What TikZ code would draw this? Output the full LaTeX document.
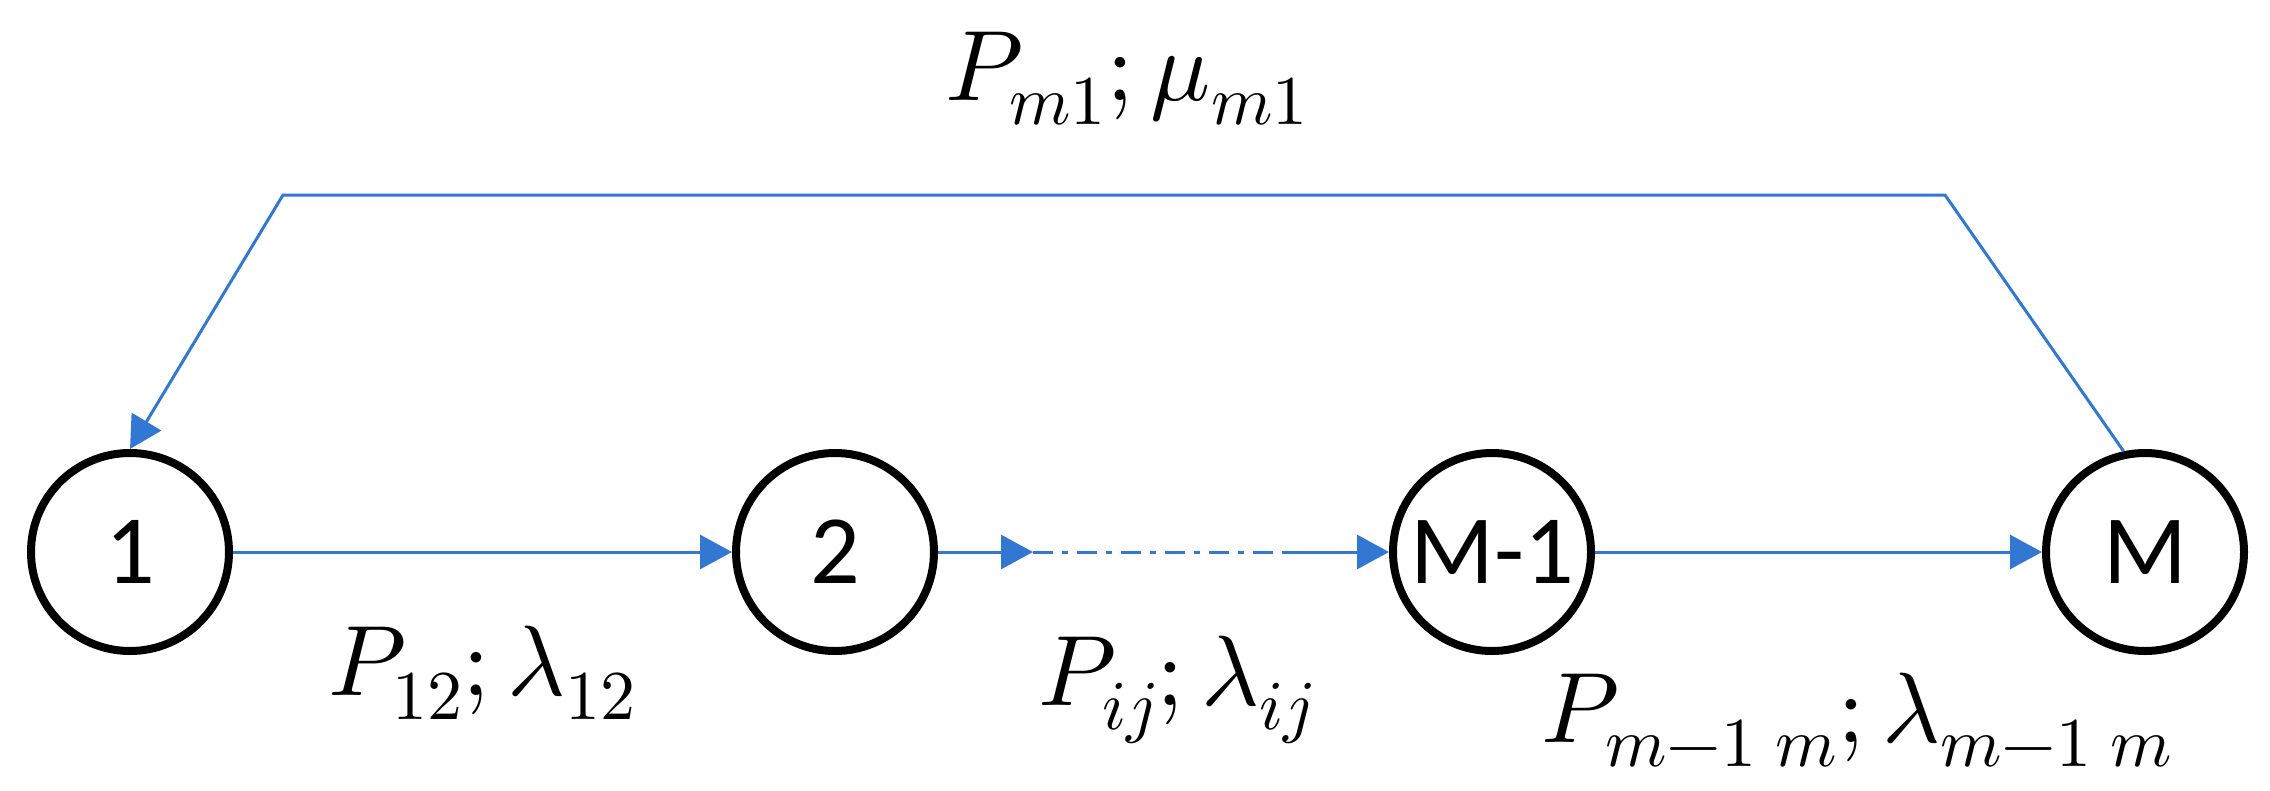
\documentclass[tikz,border=0pt]{standalone}
\usepackage{fontspec}
\usepackage{unicode-math}
\newfontfamily\nodefont{Carlito}
\usetikzlibrary{arrows.meta}
\definecolor{linkblue}{RGB}{50,120,210}
\begin{document}
\begin{tikzpicture}[x=1pt,y=-1pt,
  state/.style={circle, draw=black, line width=8pt, minimum size=198pt, inner sep=0pt,
    font=\nodefont\fontsize{98}{100}\selectfont},
  link/.style={draw=linkblue, line width=3pt},
  arr/.style={link, -{Triangle[length=32pt,width=34pt]}},
  dashdot/.style={link, dash pattern=on 20pt off 9pt on 6pt off 9pt},
  lbl/.style={anchor=base west, inner sep=0pt, font=\fontsize{100}{115}\selectfont}]
\useasboundingbox (0,0) rectangle (2270,790);

\node[state] (n1) at (130,552) {1};
\node[state] (n2) at (835,552) {2};
\node[state] (nm1) at (1492,552) {M-1};
\node[state] (nm) at (2145,552) {M};

\coordinate (d1) at (1033,552);
\coordinate (d2) at (1283,552);
\coordinate (cTL) at (283,195);
\coordinate (cTR) at (1945,195);

\draw[arr] (n1) -- (n2);
\draw[arr] (n2) -- (d1);
\draw[dashdot] (d1) -- (d2);
\draw[arr] (d2) -- (nm1);
\draw[arr] (nm1) -- (nm);
\draw[arr] (nm.102) -- (cTR) -- (cTL) -- (n1.north);

\node[lbl] (l0) at (945,100) {$P_{m1};\mu_{m1}$};
\node[lbl] (l1) at (328,695) {$P_{12};\lambda_{12}$};
\node[lbl] (l2) at (1038,705) {$P_{ij};\lambda_{ij}$};
\node[lbl] (l3) at (1541,742) {$P_{m-1\;m};\lambda_{m-1\;m}$};
\end{tikzpicture}
\end{document}
